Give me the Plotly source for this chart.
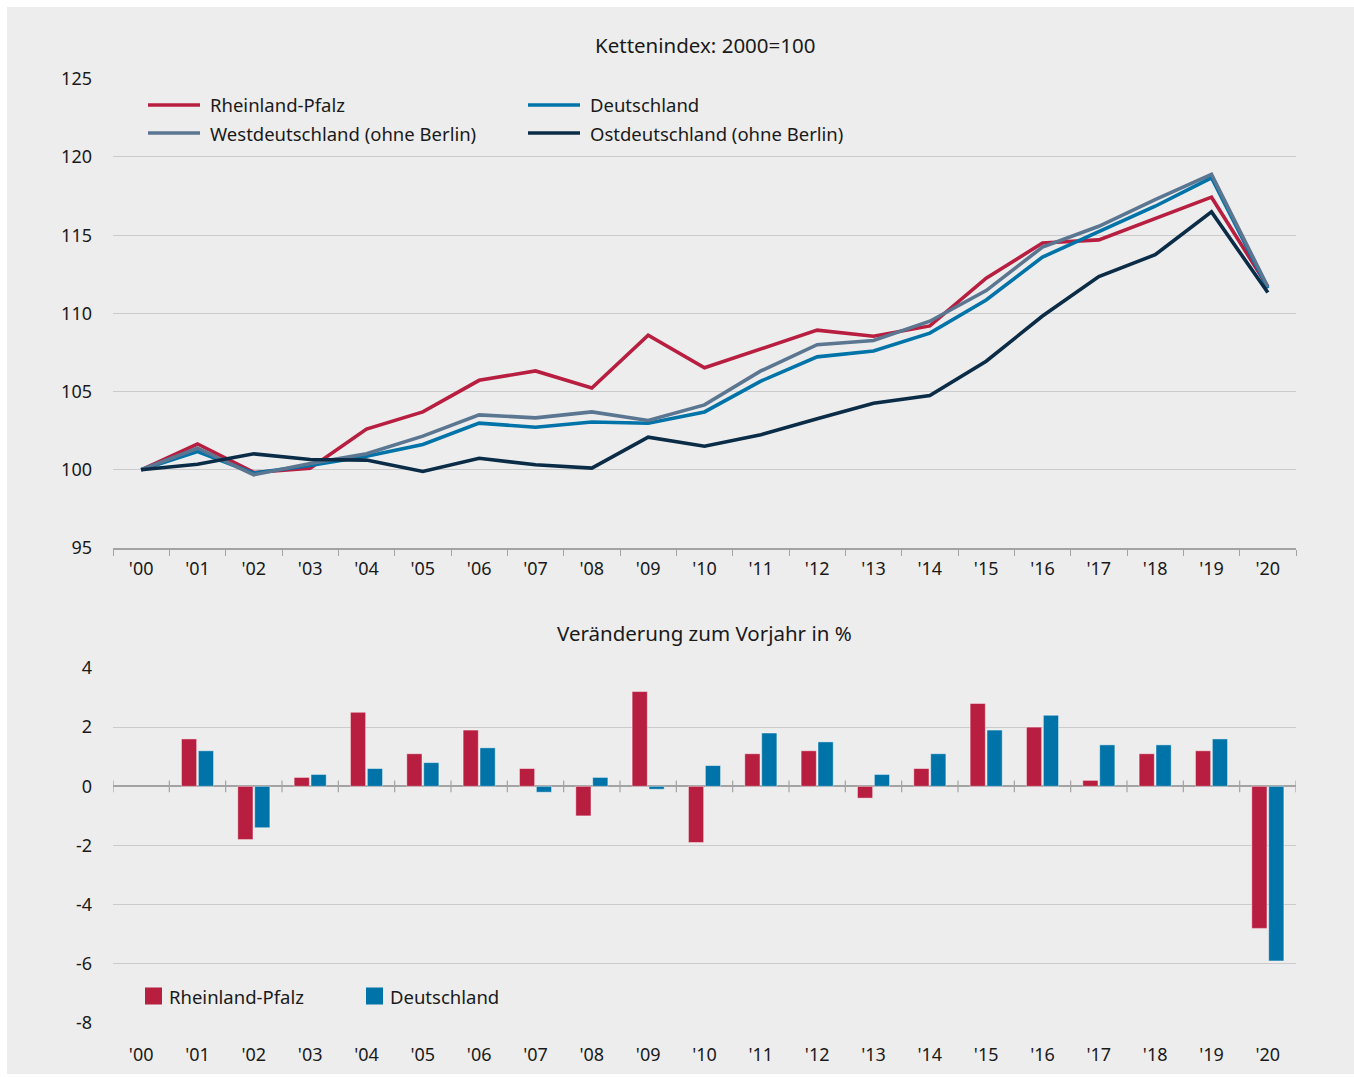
import plotly.graph_objects as go

W, H = 1354, 1077

years = ["'00", "'01", "'02", "'03", "'04", "'05", "'06", "'07", "'08", "'09", "'10",
         "'11", "'12", "'13", "'14", "'15", "'16", "'17", "'18", "'19", "'20"]

# Kettenindex 2000=100
rp_index = [100.0, 101.65, 99.83, 100.1, 102.6, 103.7, 105.72, 106.32, 105.23, 108.6, 106.52,
            107.71, 108.93, 108.54, 109.2, 112.25, 114.5, 114.7, 116.04, 117.43, 111.7]
de_index = [100.0, 101.17, 99.79, 100.28, 100.87, 101.62, 102.98, 102.72, 103.06, 102.98, 103.7,
            105.67, 107.22, 107.6, 108.74, 110.86, 113.6, 115.25, 116.85, 118.67, 111.6]
west_index = [100.0, 101.38, 99.68, 100.4, 101.02, 102.15, 103.51, 103.32, 103.7, 103.15, 104.15,
              106.32, 108.0, 108.27, 109.5, 111.46, 114.24, 115.57, 117.28, 118.89, 111.7]
ost_index = [100.0, 100.36, 101.02, 100.66, 100.62, 99.89, 100.74, 100.32, 100.11, 102.09, 101.51,
             102.24, 103.26, 104.25, 104.75, 106.94, 109.83, 112.36, 113.75, 116.49, 111.33]

# Veränderung zum Vorjahr in %
rp_change = [None, 1.6, -1.8, 0.3, 2.5, 1.1, 1.9, 0.6, -1.0, 3.2, -1.9,
             1.1, 1.2, -0.4, 0.6, 2.8, 2.0, 0.2, 1.1, 1.2, -4.8]
de_change = [None, 1.2, -1.4, 0.4, 0.6, 0.8, 1.3, -0.2, 0.3, -0.1, 0.7,
             1.8, 1.5, 0.4, 1.1, 1.9, 2.4, 1.4, 1.4, 1.6, -5.9]

line_names = ["Rheinland-Pfalz", "Deutschland", "Westdeutschland (ohne Berlin)", "Ostdeutschland (ohne Berlin)"]
line_colors = ["#b81e40", "#0073a8", "#5a7691", "#0b2c47"]
line_values = [rp_index, de_index, west_index, ost_index]

bar_names = ["Rheinland-Pfalz", "Deutschland"]
bar_colors = ["#b81e40", "#0073a8"]
bar_values = [rp_change, de_change]

top_yticks = [95, 100, 105, 110, 115, 120, 125]
top_ytext = ["95", "100", "105", "110", "115", "120", "125"]
bot_yticks = [-8, -6, -4, -2, 0, 2, 4]
bot_ytext = ["-8", "-6", "-4", "-2", "0", "2", "4"]

FONT = "Noto Sans"
TXT = "#1a1a1a"
GRID = "#cbcbcb"
AXIS = "#a3a3a3"
BG = "#ededed"


def px(x):
    return x / W


def py(y):
    return 1 - y / H


fig = go.Figure()

for name, color, vals in zip(line_names, line_colors, line_values):
    fig.add_trace(go.Scatter(x=years, y=vals, mode="lines", name=name,
                             line=dict(color=color, width=3.6), showlegend=False,
                             xaxis="x", yaxis="y"))

for name, color, vals in zip(bar_names, bar_colors, bar_values):
    fig.add_trace(go.Bar(x=years, y=vals, name=name, marker=dict(color=color,
                         line=dict(color="rgba(255,255,255,0.45)", width=1)),
                         showlegend=False, xaxis="x2", yaxis="y2"))

x_dom = [px(113), px(1296)]
fig.update_layout(
    width=W, height=H,
    margin=dict(l=0, r=0, t=0, b=0),
    paper_bgcolor="white",
    plot_bgcolor="rgba(0,0,0,0)",
    font=dict(family=FONT, size=18, color=TXT),
    barmode="group", bargap=0.4, bargroupgap=0.1,
    xaxis=dict(domain=x_dom, anchor="y", type="category", range=[-0.5, len(years) - 0.5],
               showgrid=False, showline=True, linecolor=AXIS, linewidth=1.5,
               ticks="outside", tickson="boundaries", ticklen=6, tickcolor=AXIS, tickwidth=1.2,
               ticklabelstandoff=4, automargin=False, tickfont=dict(size=18, color=TXT)),
    yaxis=dict(domain=[py(548), py(78)], anchor="x", range=[95, 125.05], tickvals=top_yticks,
               ticktext=top_ytext,
               showgrid=True, gridcolor=GRID, gridwidth=1.2, zeroline=False, showline=False,
               ticks="", ticklabelstandoff=20, automargin=False, tickfont=dict(size=18, color=TXT)),
    xaxis2=dict(domain=x_dom, anchor="y2", type="category", range=[-0.5, len(years) - 0.5],
                showgrid=False, showline=False, ticks="", ticklabelstandoff=18,
                automargin=False, tickfont=dict(size=18, color=TXT)),
    yaxis2=dict(domain=[py(1024), py(667)], anchor="x2", range=[-8.03, 4.03], tickvals=bot_yticks,
                ticktext=bot_ytext,
                showgrid=True, gridcolor=GRID, gridwidth=1.2, zeroline=True, zerolinecolor=AXIS,
                zerolinewidth=1.5, showline=False, ticks="", ticklabelstandoff=20,
                automargin=False, tickfont=dict(size=18, color=TXT)),
)

shapes = [dict(type="rect", xref="paper", yref="paper", x0=px(7), x1=1, y0=py(1074), y1=py(7),
               fillcolor=BG, line=dict(width=0), layer="below")]
# tick marks crossing the zero line of the lower chart (category boundaries)
for k in range(len(years) + 1):
    shapes.append(dict(type="line", xref="x2", yref="y2", x0=k - 0.5, x1=k - 0.5, y0=-0.2, y1=0.2,
                       line=dict(color=AXIS, width=1.2)))

annotations = [
    dict(text="Kettenindex: 2000=100", xref="paper", yref="paper", x=px(704.5), y=py(45),
         showarrow=False, xanchor="center", yanchor="middle", font=dict(size=20.5, color=TXT)),
    dict(text="Veränderung zum Vorjahr in %", xref="paper", yref="paper", x=px(704.5), y=py(633),
         showarrow=False, xanchor="center", yanchor="middle", font=dict(size=20.5, color=TXT)),
]

# manual legend for line chart (two columns)
leg_pos = [(148, 105), (528, 105), (148, 133), (528, 133)]
for (lx, ly), name, color in zip(leg_pos, line_names, line_colors):
    shapes.append(dict(type="line", xref="paper", yref="paper", x0=px(lx), x1=px(lx + 52),
                       y0=py(ly), y1=py(ly), line=dict(color=color, width=3.6)))
    annotations.append(dict(text=name, xref="paper", yref="paper", x=px(lx + 60), y=py(ly),
                            showarrow=False, xanchor="left", yanchor="middle",
                            font=dict(size=18.5, color=TXT)))

# manual legend for bar chart
bleg_pos = [(145, 996), (366, 996)]
for (lx, ly), name, color in zip(bleg_pos, bar_names, bar_colors):
    shapes.append(dict(type="rect", xref="paper", yref="paper", x0=px(lx), x1=px(lx + 17),
                       y0=py(ly + 8.5), y1=py(ly - 8.5), fillcolor=color, line=dict(width=0)))
    annotations.append(dict(text=name, xref="paper", yref="paper", x=px(lx + 22), y=py(ly),
                            showarrow=False, xanchor="left", yanchor="middle",
                            font=dict(size=18.5, color=TXT)))

fig.update_layout(shapes=shapes, annotations=annotations)
fig.write_html("out.html", config={"displayModeBar": False},
               post_script="document.body.style.margin='0';document.body.style.overflow='hidden';")
